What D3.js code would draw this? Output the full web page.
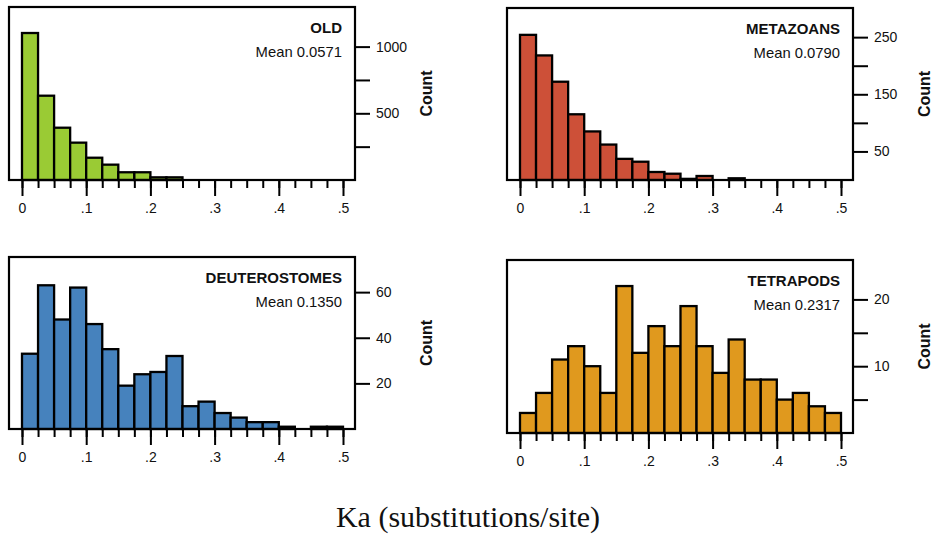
<!DOCTYPE html>
<html lang="en">
<head>
<meta charset="UTF-8">
<title>Ka histograms</title>
<script src="https://d3js.org/d3.v7.min.js"></script>
<style>
    body { margin: 0; background: #fff; }
    svg text { font-family: "Liberation Sans", Arial, Helvetica, sans-serif; fill: #111; }
    .title { font-weight: bold; font-size: 15px; }
    .mean { font-size: 14.8px; }
    .count { font-weight: bold; font-size: 16px; }
    .axis text { font-size: 14px; }
    .axis path { display: none; }
    .axis line { stroke: #000; stroke-width: 2px; }
    .xlabel { font-family: "Liberation Serif", "Times New Roman", serif !important; font-size: 30px; }
</style>
</head>
<body>
<div id="chart"></div>
<script>
    // bin starts (width 0.025)
    const binStarts = [0, 0.025, 0.05, 0.075, 0.1, 0.125, 0.15, 0.175, 0.2, 0.225,
        0.25, 0.275, 0.3, 0.325, 0.35, 0.375, 0.4, 0.425, 0.45, 0.475];
    const binWidth = 0.025;

    // counts per bin
    const oldCounts = [1102, 632, 392, 280, 167, 115, 58, 58, 20, 20, 0, 0, 0, 0, 0, 0, 0, 0, 0, 0];
    const metazoanCounts = [254, 218, 172, 115, 85, 62, 37, 32, 14, 11, 2, 7, 0, 3, 0, 0, 0, 0, 0, 0];
    const deuterostomeCounts = [33, 63, 48, 62, 46, 35, 19, 24, 25, 32, 10, 12, 7, 5, 3, 3, 1, 0, 1, 1];
    const tetrapodCounts = [3, 6, 11, 13, 10, 6, 22, 12, 16, 13, 19, 13, 9, 14, 8, 8, 5, 6, 4, 3];

    const panelNames = ["OLD", "METAZOANS", "DEUTEROSTOMES", "TETRAPODS"];
    const panelMeans = ["Mean 0.0571", "Mean 0.0790", "Mean 0.1350", "Mean 0.2317"];
    const panelColors = ["#9acb34", "#cd5038", "#4682bd", "#e0991e"];

    const xMajorTicks = [0, 0.1, 0.2, 0.3, 0.4, 0.5];
    const xTickLabels = ["0", ".1", ".2", ".3", ".4", ".5"];

    const yTicks = [
        [250, 500, 750, 1000],
        [50, 100, 150, 200, 250],
        [20, 40, 60],
        [5, 10, 15, 20]
    ];
    const yLabeled = [
        [500, 1000],
        [50, 150, 250],
        [20, 40, 60],
        [10, 20]
    ];
    const yMax = [1297, 301, 75.4, 25.9];

    const allCounts = [oldCounts, metazoanCounts, deuterostomeCounts, tetrapodCounts];

    // frame placement of each panel: left, top, bottom
    const frames = [
        { left: 9, top: 7, bottom: 180 },
        { left: 507, top: 8, bottom: 180 },
        { left: 9, top: 257, bottom: 429 },
        { left: 507, top: 260, bottom: 433 }
    ];
    const frameWidth = 346;

    const svg = d3.select("#chart").append("svg")
        .attr("width", 933)
        .attr("height", 536);

    svg.append("rect").attr("width", 933).attr("height", 536).attr("fill", "#fff");

    allCounts.forEach(function (counts, i) {
        const f = frames[i];
        const g = svg.append("g").attr("transform", "translate(" + f.left + ",0)");

        const x = d3.scaleLinear().domain([0, 0.5]).range([13, 334]);
        const y = d3.scaleLinear().domain([0, yMax[i]]).range([f.bottom, f.top]);

        // bars
        const bins = binStarts.map(function (s, j) { return { x0: s, x1: s + binWidth, n: counts[j] }; })
            .filter(function (d) { return d.n > 0; });

        g.selectAll(".bar")
            .data(bins)
            .enter()
            .append("rect")
            .attr("class", "bar")
            .attr("x", function (d) { return x(d.x0); })
            .attr("width", function (d) { return x(d.x1) - x(d.x0); })
            .attr("y", function (d) { return y(d.n); })
            .attr("height", function (d) { return y(0) - y(d.n); })
            .attr("fill", panelColors[i])
            .attr("stroke", "#000")
            .attr("stroke-width", 2.3);

        // frame
        g.append("rect")
            .attr("x", 0)
            .attr("y", f.top)
            .attr("width", frameWidth)
            .attr("height", f.bottom - f.top)
            .attr("fill", "none")
            .attr("stroke", "#000")
            .attr("stroke-width", 2.2);

        // minor x ticks
        g.append("g")
            .attr("class", "axis")
            .attr("transform", "translate(0," + f.bottom + ")")
            .call(d3.axisBottom(x).tickValues(binStarts.concat([0.5])).tickSize(8).tickFormat(""));

        // major x ticks
        g.append("g")
            .attr("class", "axis")
            .attr("transform", "translate(0," + f.bottom + ")")
            .call(d3.axisBottom(x).tickValues(xMajorTicks).tickSize(16).tickPadding(7)
                .tickFormat(function (d, k) { return xTickLabels[k]; }));

        // right y axis
        g.append("g")
            .attr("class", "axis")
            .attr("transform", "translate(" + frameWidth + ",0)")
            .call(d3.axisRight(y).tickValues(yTicks[i]).tickSize(15).tickPadding(6)
                .tickFormat(function (d) { return yLabeled[i].indexOf(d) >= 0 ? d : ""; }));

        g.append("text")
            .attr("class", "title")
            .attr("x", frameWidth - 13)
            .attr("y", f.top + 26)
            .attr("text-anchor", "end")
            .text(panelNames[i]);

        g.append("text")
            .attr("class", "mean")
            .attr("x", frameWidth - 13)
            .attr("y", f.top + 50)
            .attr("text-anchor", "end")
            .text(panelMeans[i]);

        g.append("text")
            .attr("class", "count")
            .attr("transform", "translate(" + (frameWidth + 71) + "," + ((f.top + f.bottom) / 2) + ") rotate(-90)")
            .attr("text-anchor", "middle")
            .attr("dy", "0.35em")
            .text("Count");
    });

    svg.append("text")
        .attr("class", "xlabel")
        .attr("x", 468)
        .attr("y", 527)
        .attr("text-anchor", "middle")
        .text("Ka (substitutions/site)");
</script>
</body>
</html>
